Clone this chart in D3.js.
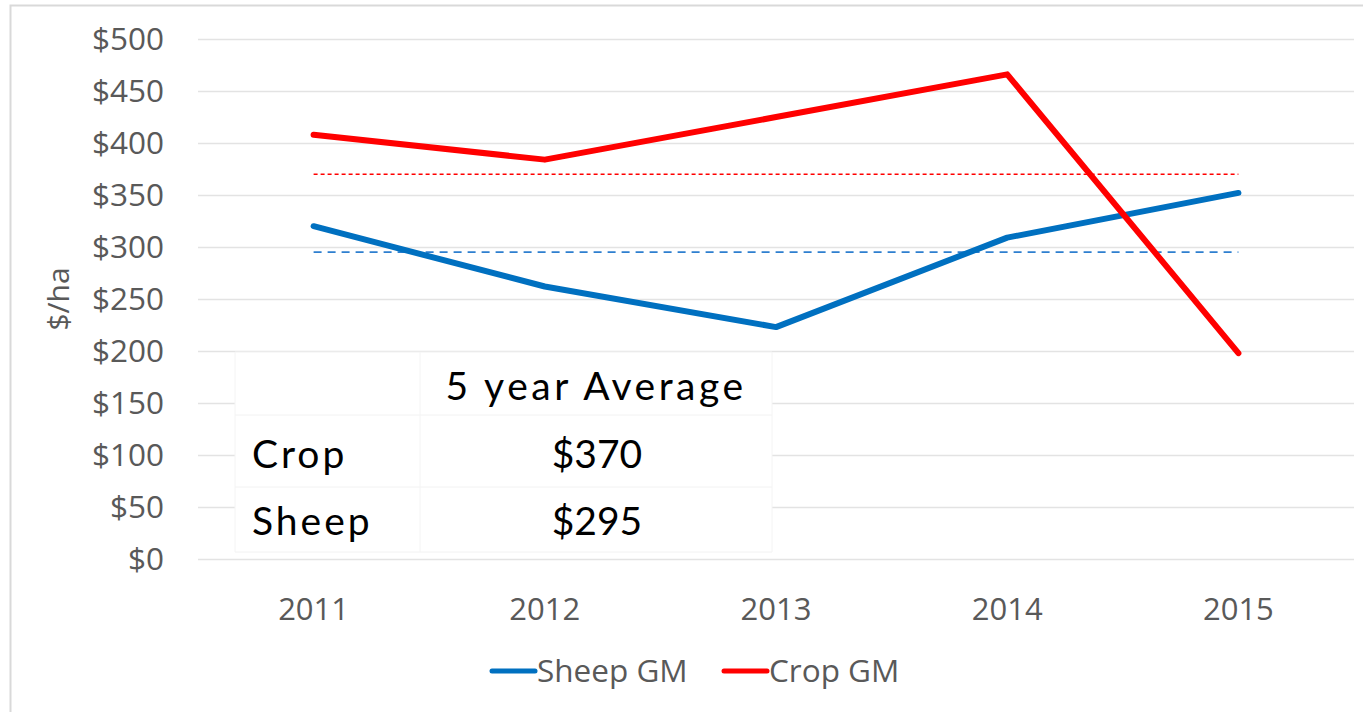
<!DOCTYPE html>
<html>
<head>
<meta charset="utf-8">
<script src="https://cdn.jsdelivr.net/npm/d3@7"></script>
<style>
  body { margin: 0; background: #fff; }
  svg { display: block; }
</style>
</head>
<body>
<div id="chart"></div>
<script>
// chart data
var years = ['2011', '2012', '2013', '2014', '2015'];
var sheepGM = [320, 262, 223, 309, 352];
var cropGM = [408, 384, 425, 466, 198];
var cropAvg = 370,
    sheepAvg = 295;
var yTicks = [0, 50, 100, 150, 200, 250, 300, 350, 400, 450, 500];
var tableRows = [['Crop', '$370'], ['Sheep', '$295']];

var width = 1363,
    height = 712,
    margin = {top: 39, right: 9, bottom: 152, left: 198},
    axisFont = '"Open Sans", Calibri, sans-serif',
    textColor = '#595959',
    blue = '#0070c0',
    red = '#ff0000';

var svg = d3.select('#chart').append('svg')
    .attr('width', width)
    .attr('height', height);

// outer frame
svg.append('rect')
    .attr('x', 10.5).attr('y', 5.5)
    .attr('width', width).attr('height', height)
    .attr('fill', 'none')
    .attr('stroke', '#d9d9d9')
    .attr('stroke-width', 2);

var x = d3.scaleBand()
    .domain(years)
    .range([margin.left, width - margin.right]);

var y = d3.scaleLinear()
    .domain([0, 500])
    .range([height - margin.bottom - 1, margin.top]);

// gridlines
svg.append('g')
    .selectAll('line')
    .data(yTicks)
    .join('line')
    .attr('x1', margin.left).attr('x2', width - margin.right)
    .attr('y1', function (d) { return Math.round(y(d)) + 0.5; })
    .attr('y2', function (d) { return Math.round(y(d)) + 0.5; })
    .attr('stroke', '#e3e3e3')
    .attr('stroke-width', 1.5);

// y axis labels
var yAxis = d3.axisLeft(y)
    .tickValues(yTicks)
    .tickSize(0)
    .tickPadding(0)
    .tickFormat(function (d) { return '$' + d; });

svg.append('g')
    .attr('transform', 'translate(164,0)')
    .call(yAxis)
    .call(function (g) { g.select('.domain').remove(); })
    .selectAll('text')
    .attr('font-family', axisFont)
    .attr('font-size', 31.5)
    .attr('fill', textColor);

svg.append('text')
    .attr('transform', 'translate(69,' + y(250) + ') rotate(-90)')
    .attr('text-anchor', 'middle')
    .attr('font-family', axisFont)
    .attr('font-size', 30)
    .attr('fill', textColor)
    .text('$/ha');

// x axis labels
var xAxis = d3.axisBottom(x).tickSize(0).tickPadding(0);
svg.append('g')
    .attr('transform', 'translate(0,598)')
    .call(xAxis)
    .call(function (g) { g.select('.domain').remove(); })
    .selectAll('text')
    .attr('font-family', axisFont)
    .attr('font-size', 31)
    .attr('fill', textColor);

var cx = function (d, i) { return x(years[i]) + x.bandwidth() / 2; };

// average lines
var x0 = x(years[0]) + x.bandwidth() / 2,
    x1 = x(years[years.length - 1]) + x.bandwidth() / 2;

svg.append('line')
    .attr('x1', x0).attr('x2', x1)
    .attr('y1', y(cropAvg)).attr('y2', y(cropAvg))
    .attr('stroke', red)
    .attr('stroke-width', 1.6)
    .attr('stroke-dasharray', '4,3');

svg.append('line')
    .attr('x1', x0).attr('x2', x1)
    .attr('y1', y(sheepAvg)).attr('y2', y(sheepAvg))
    .attr('stroke', '#2e7fcf')
    .attr('stroke-width', 1.8)
    .attr('stroke-dasharray', '8,6');

// series lines
var line = d3.line()
    .x(cx)
    .y(function (d) { return y(d); });

svg.append('path')
    .datum(sheepGM)
    .attr('d', line)
    .attr('fill', 'none')
    .attr('stroke', blue)
    .attr('stroke-width', 6)
    .attr('stroke-linejoin', 'round')
    .attr('stroke-linecap', 'round');

svg.append('path')
    .datum(cropGM)
    .attr('d', line)
    .attr('fill', 'none')
    .attr('stroke', red)
    .attr('stroke-width', 6)
    .attr('stroke-linejoin', 'round')
    .attr('stroke-linecap', 'round');

// 5 year average table
var tbl = svg.append('g');
var tblFont = '"Century Gothic", Lato, "Noto Sans", sans-serif';
var colX = [235, 420, 772],
    rowY = [352, 415, 487, 552];

tbl.append('rect')
    .attr('x', colX[0]).attr('y', rowY[0])
    .attr('width', colX[2] - colX[0]).attr('height', rowY[3] - rowY[0])
    .attr('fill', '#fff');

tbl.selectAll('line.h')
    .data(rowY)
    .join('line')
    .attr('x1', colX[0]).attr('x2', colX[2])
    .attr('y1', function (d) { return d; }).attr('y2', function (d) { return d; })
    .attr('stroke', '#f2f2f2');

tbl.selectAll('line.v')
    .data(colX)
    .join('line')
    .attr('y1', rowY[0]).attr('y2', rowY[3])
    .attr('x1', function (d) { return d; }).attr('x2', function (d) { return d; })
    .attr('stroke', '#f4f4f4');

tbl.append('text')
    .attr('x', 596).attr('y', 400)
    .attr('text-anchor', 'middle')
    .attr('font-family', tblFont)
    .attr('font-size', 39)
    .attr('letter-spacing', 3.5)
    .attr('fill', '#000')
    .text('5 year Average');

tbl.selectAll('text.row')
    .data(tableRows)
    .join(function (enter) {
        var g = enter.append('g');
        g.append('text')
            .attr('x', 252)
            .attr('y', function (d, i) { return 468 + i * 67; })
            .attr('font-family', tblFont)
            .attr('font-size', 39)
            .attr('letter-spacing', 3)
            .text(function (d) { return d[0]; });
        g.append('text')
            .attr('x', 597)
            .attr('y', function (d, i) { return 468 + i * 67; })
            .attr('text-anchor', 'middle')
            .attr('font-family', tblFont)
            .attr('font-size', 39)
            .attr('letter-spacing', 0)
            .text(function (d) { return d[1]; });
        return g;
    });

// legend
var legendItems = [
    {name: 'Sheep GM', color: blue, x: 492},
    {name: 'Crop GM', color: red, x: 724}
];
var lg = svg.append('g').selectAll('g')
    .data(legendItems)
    .join('g')
    .attr('transform', function (d) { return 'translate(' + d.x + ',671)'; });

lg.append('line')
    .attr('x1', 0).attr('x2', 43)
    .attr('stroke', function (d) { return d.color; })
    .attr('stroke-width', 5)
    .attr('stroke-linecap', 'round');

lg.append('text')
    .attr('x', 45)
    .attr('dy', '0.35em')
    .attr('font-family', axisFont)
    .attr('font-size', 31.5)
    .attr('fill', textColor)
    .text(function (d) { return d.name; });
</script>
</body>
</html>
